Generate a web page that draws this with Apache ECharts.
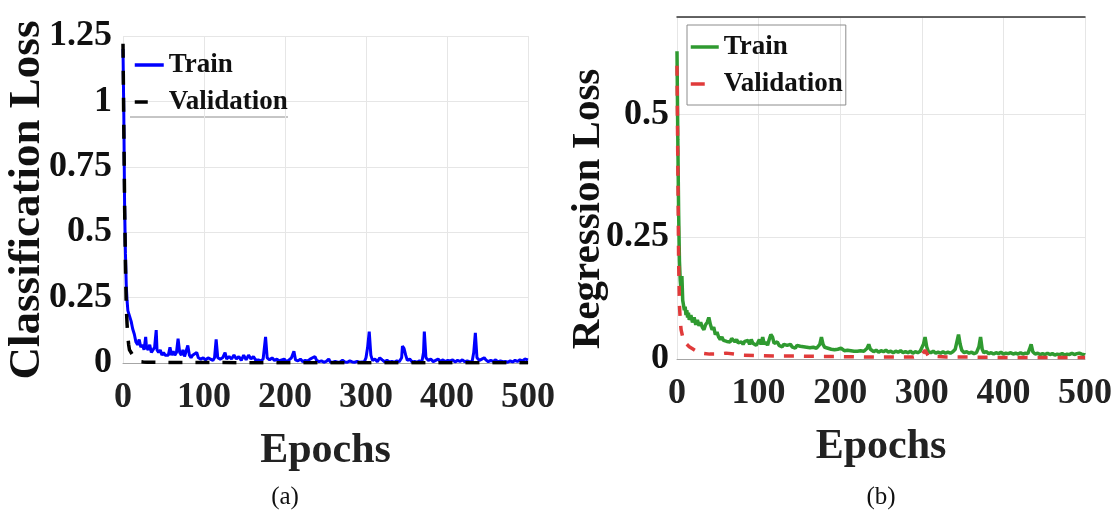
<!DOCTYPE html>
<html>
<head>
<meta charset="utf-8">
<script src="https://cdn.jsdelivr.net/npm/echarts@6/dist/echarts.min.js"></script>
<style>
  html, body { margin: 0; padding: 0; background: #fff; }
  #chart { width: 1115px; height: 512px; }
</style>
</head>
<body>
<div id="chart"></div>
<script>
// [epoch, loss]
const trainCls = [
  [0,1.2],[1,0.95],[2,0.6],[3,0.42],[4,0.3],[5,0.24],[6,0.2],[8,0.18],[10,0.16],[12,0.13],[14,0.11],[16,0.08],[18,0.07],[20,0.09],
  [22,0.06],[24,0.07],[26,0.05],[28,0.1],[29,0.06],[31,0.05],[33,0.07],[35,0.04],[37,0.05],[39,0.06],[41,0.126],[42,0.05],[44,0.04],
  [46,0.05],[48,0.03],[50,0.04],[52,0.03],[54,0.035],[56,0.03],[58,0.06],[60,0.03],[62,0.045],[64,0.03],[66,0.04],[68,0.093],[70,0.04],
  [72,0.03],[74,0.05],[76,0.025],[78,0.03],[80,0.067],[82,0.03],[84,0.02],[86,0.03],[88,0.025],[91,0.04],[93,0.02],[96,0.015],[99,0.02],
  [102,0.012],[105,0.02],[108,0.015],[111,0.01],[113,0.02],[115,0.09],[117,0.02],[120,0.015],[123,0.02],[126,0.04],[128,0.015],[131,0.025],
  [134,0.015],[137,0.03],[140,0.015],[143,0.025],[146,0.01],[149,0.03],[152,0.012],[155,0.03],[158,0.015],[161,0.025],[164,0.01],[167,0.012],
  [170,0.008],[173,0.015],[176,0.1],[178,0.02],[181,0.012],[184,0.02],[187,0.01],[190,0.015],[193,0.008],[196,0.012],[199,0.015],[202,0.005],
  [205,0.012],[208,0.02],[211,0.045],[213,0.012],[216,0.008],[219,0.015],[222,0.005],[225,0.01],[228,0.008],[231,0.015],[234,0.02],[237,0.025],
  [239,0.01],[242,0.005],[245,0.008],[248,0.003],[251,0.006],[254,0.015],[256,0.004],[259,0.003],[262,0.006],[265,0.003],[268,0.004],[271,0.01],
  [274,0.004],[277,0.003],[280,0.008],[283,0.004],[286,0.003],[289,0.006],[292,0.003],[295,0.004],[298,0.005],[300,0.02],[302,0.06],[304,0.12],
  [306,0.03],[308,0.01],[311,0.015],[314,0.005],[317,0.02],[320,0.012],[323,0.005],[326,0.01],[329,0.004],[332,0.006],[335,0.003],[338,0.008],
  [341,0.005],[344,0.02],[345,0.065],[347,0.055],[349,0.03],[351,0.01],[354,0.015],[357,0.004],[360,0.006],[363,0.003],[366,0.008],[369,0.005],
  [371,0.04],[372,0.12],[374,0.02],[377,0.01],[380,0.015],[383,0.005],[386,0.01],[389,0.015],[392,0.006],[395,0.012],[398,0.005],[401,0.01],
  [404,0.008],[407,0.012],[410,0.004],[413,0.01],[416,0.006],[419,0.012],[422,0.005],[425,0.008],[428,0.004],[431,0.006],[433,0.04],[435,0.115],
  [437,0.02],[440,0.01],[443,0.015],[446,0.02],[448,0.012],[451,0.005],[454,0.01],[457,0.006],[460,0.012],[463,0.004],[466,0.008],[469,0.005],
  [472,0.006],[475,0.003],[478,0.008],[481,0.004],[484,0.01],[487,0.006],[490,0.012],[493,0.008],[496,0.015],[498,0.01],[500,0.012]
];
const valCls = [
  [0,1.22],[1,0.9],[2,0.6],[3,0.38],[4,0.22],[5,0.15],[6,0.1],[7,0.07],[8,0.05],[10,0.04],[12,0.03],[14,0.02],[16,0.012],[18,0.008],
  [21,0.005],[25,0.004],[30,0.003],[40,0.003],[60,0.002],[80,0.002],[100,0.002],[150,0.001],[200,0.001],[250,0.001],[300,0.001],
  [350,0.001],[400,0.001],[450,0.001],[500,0.001]
];
const trainReg = [
  [0,0.63],[1,0.45],[2,0.3],[3,0.2],[4,0.16],[5,0.14],[6,0.17],[7,0.12],[8,0.11],[9,0.1],[10,0.107],[11,0.09],[12,0.1],[13,0.085],[14,0.095],
  [15,0.08],[17,0.09],[19,0.075],[21,0.085],[23,0.07],[25,0.08],[27,0.068],[29,0.075],[31,0.065],[33,0.06],[35,0.07],[37,0.075],[39,0.085],
  [41,0.07],[43,0.06],[45,0.065],[47,0.05],[49,0.055],[51,0.045],[53,0.04],[55,0.045],[57,0.038],[59,0.042],[61,0.036],[63,0.04],[65,0.035],
  [67,0.042],[69,0.038],[71,0.035],[73,0.04],[75,0.033],[77,0.037],[79,0.035],[81,0.03],[83,0.036],[85,0.032],[87,0.038],[89,0.03],[91,0.04],
  [93,0.032],[95,0.035],[97,0.028],[99,0.033],[101,0.04],[103,0.03],[105,0.045],[107,0.03],[109,0.035],[111,0.028],[113,0.04],[115,0.05],
  [117,0.045],[119,0.032],[121,0.03],[123,0.035],[125,0.028],[127,0.03],[129,0.025],[131,0.03],[133,0.026],[135,0.028],[137,0.024],[139,0.03],
  [141,0.025],[143,0.027],[145,0.022],[147,0.028],[149,0.024],[151,0.026],[153,0.022],[155,0.025],[157,0.021],[159,0.024],[161,0.02],[163,0.023],
  [165,0.021],[167,0.024],[169,0.02],[171,0.022],[173,0.025],[175,0.03],[177,0.045],[179,0.03],[181,0.024],[183,0.028],[185,0.022],[187,0.025],
  [189,0.02],[191,0.023],[193,0.019],[195,0.022],[197,0.02],[199,0.018],[201,0.022],[203,0.019],[205,0.017],[207,0.021],[209,0.018],[211,0.02],
  [213,0.017],[215,0.019],[217,0.016],[219,0.018],[221,0.016],[223,0.02],[225,0.017],[227,0.019],[229,0.016],[231,0.018],[233,0.022],[235,0.03],
  [237,0.02],[239,0.017],[241,0.015],[244,0.018],[247,0.014],[250,0.017],[253,0.015],[256,0.018],[259,0.014],[262,0.016],[265,0.013],[268,0.016],
  [271,0.014],[274,0.017],[277,0.013],[280,0.015],[283,0.013],[286,0.016],[289,0.012],[292,0.015],[295,0.013],[298,0.016],[300,0.02],[302,0.03],
  [304,0.045],[306,0.025],[308,0.015],[311,0.013],[314,0.016],[317,0.012],[320,0.014],[323,0.012],[326,0.015],[329,0.012],[332,0.014],[335,0.012],
  [338,0.015],[341,0.02],[343,0.035],[345,0.05],[347,0.03],[349,0.018],[352,0.013],[355,0.015],[358,0.012],[361,0.014],[364,0.011],[367,0.013],
  [370,0.025],[372,0.045],[374,0.02],[376,0.013],[379,0.015],[382,0.011],[385,0.013],[388,0.01],[391,0.013],[394,0.011],[397,0.014],[400,0.01],
  [403,0.012],[406,0.011],[409,0.013],[412,0.01],[415,0.012],[418,0.01],[421,0.013],[424,0.01],[427,0.012],[430,0.011],[432,0.02],[434,0.03],
  [436,0.015],[439,0.01],[442,0.012],[445,0.009],[448,0.011],[451,0.009],[454,0.012],[457,0.009],[460,0.011],[463,0.008],[466,0.01],[469,0.009],
  [472,0.011],[475,0.008],[478,0.01],[481,0.009],[484,0.012],[487,0.009],[490,0.011],[493,0.012],[496,0.01],[499,0.009],[500,0.008]
];
const valReg = [
  [0,0.6],[1,0.4],[2,0.2],[3,0.11],[4,0.08],[5,0.06],[7,0.045],[9,0.035],[12,0.03],[15,0.025],[20,0.02],[25,0.015],[30,0.012],[40,0.01],
  [50,0.01],[60,0.012],[70,0.01],[80,0.008],[100,0.007],[120,0.006],[150,0.006],[180,0.005],[200,0.005],[230,0.004],[260,0.004],[290,0.004],
  [300,0.008],[304,0.018],[308,0.006],[330,0.004],[360,0.004],[400,0.003],[440,0.003],[480,0.003],[500,0.003]
];

const FONT = '"Liberation Serif", "Times New Roman", serif';
const gridColor = '#e6e6e6';

function xAxisFor(idx) {
  return {
    type: 'value', gridIndex: idx, min: 0, max: 500, interval: 100,
    name: 'Epochs', nameLocation: 'middle', nameGap: 67,
    nameTextStyle: { fontFamily: FONT, fontWeight: 'bold', fontSize: 42, color: '#222' },
    axisLine: { lineStyle: { color: '#a6a6a6', width: 1 } },
    axisTick: { show: false },
    axisLabel: { fontFamily: FONT, fontWeight: 'bold', fontSize: 36, color: '#222', margin: 17 },
    splitLine: { lineStyle: { color: gridColor } }
  };
}

function yAxisFor(idx, max, margin) {
  return {
    type: 'value', gridIndex: idx, min: 0, max: max, interval: 0.25,
    axisLine: { show: false },
    axisTick: { show: false },
    axisLabel: { fontFamily: FONT, fontWeight: 'bold', fontSize: 36, color: '#111', margin: margin, showMaxLabel: idx === 0 },
    splitLine: { lineStyle: { color: gridColor } }
  };
}

function line(name, data, idx, color, width, dash) {
  return {
    name: name, type: 'line', xAxisIndex: idx, yAxisIndex: idx, data: data,
    symbol: 'none', showSymbol: false, animation: false,
    lineStyle: { color: color, width: width, type: dash || 'solid' },
    itemStyle: { color: color }
  };
}

const legendText = { fontFamily: FONT, fontWeight: 'bold', fontSize: 27, color: '#111', lineHeight: 30 };

const option = {
  backgroundColor: '#fff',
  animation: false,
  grid: [
    { left: 123, top: 36, width: 405, height: 327 },
    { left: 677, top: 17, width: 408, height: 342 }
  ],
  xAxis: [
    xAxisFor(0),
    xAxisFor(1),
    {
      type: 'value', gridIndex: 1, position: 'top', min: 0, max: 500,
      axisLine: { lineStyle: { color: '#333', width: 1.5 } },
      axisTick: { show: false }, axisLabel: { show: false }, splitLine: { show: false }
    }
  ],
  yAxis: [yAxisFor(0, 1.25, 11), yAxisFor(1, 0.7, 8)],
  legend: [
    {
      data: [
        { name: 'a-Train' },
        { name: 'a-Validation', lineStyle: { type: [13, 30] } }
      ],
      orient: 'vertical', left: 133, top: 50,
      itemWidth: 29, itemHeight: 14, itemGap: 7, padding: 0,
      itemStyle: { opacity: 0 }, lineStyle: { width: 3.5 },
      formatter: n => n.slice(2), textStyle: legendText
    },
    {
      data: [
        { name: 'b-Train' },
        { name: 'b-Validation', lineStyle: { type: [14, 30] } }
      ],
      orient: 'vertical', left: 687, top: 25,
      itemWidth: 28, itemHeight: 14, itemGap: 7, padding: [7, 3, 6, 2],
      borderColor: '#8c8c8c', borderWidth: 1,
      itemStyle: { opacity: 0 }, lineStyle: { width: 3.5 },
      formatter: n => n.slice(2), textStyle: legendText
    }
  ],
  graphic: [
    { type: 'line', shape: { x1: 130, y1: 117, x2: 288, y2: 117 }, style: { stroke: '#8c8c8c', lineWidth: 1 } },
    {
      type: 'text', x: 27, y: 200, rotation: Math.PI / 2,
      style: { text: 'Classification Loss', font: 'bold 45px ' + FONT, fill: '#111',
        align: 'center', verticalAlign: 'middle', textAlign: 'center', textVerticalAlign: 'middle' }
    },
    {
      type: 'text', x: 588, y: 209, rotation: Math.PI / 2,
      style: { text: 'Regression Loss', font: 'bold 41px ' + FONT, fill: '#111',
        align: 'center', verticalAlign: 'middle', textAlign: 'center', textVerticalAlign: 'middle' }
    },
    {
      type: 'text', x: 285, y: 497,
      style: { text: '(a)', font: '25px ' + FONT, fill: '#111',
        align: 'center', verticalAlign: 'middle', textAlign: 'center', textVerticalAlign: 'middle' }
    },
    {
      type: 'text', x: 881, y: 497,
      style: { text: '(b)', font: '25px ' + FONT, fill: '#111',
        align: 'center', verticalAlign: 'middle', textAlign: 'center', textVerticalAlign: 'middle' }
    }
  ],
  series: [
    line('a-Train', trainCls, 0, '#0000ff', 3),
    line('a-Validation', valCls, 0, '#000000', 3.5, [14, 13]),
    line('b-Train', trainReg, 1, '#2f9a30', 3.5),
    line('b-Validation', valReg, 1, '#e03a3a', 3.5, [10, 10])
  ]
};

const myChart = echarts.init(document.getElementById('chart'));
myChart.setOption(option);
</script>
</body>
</html>
